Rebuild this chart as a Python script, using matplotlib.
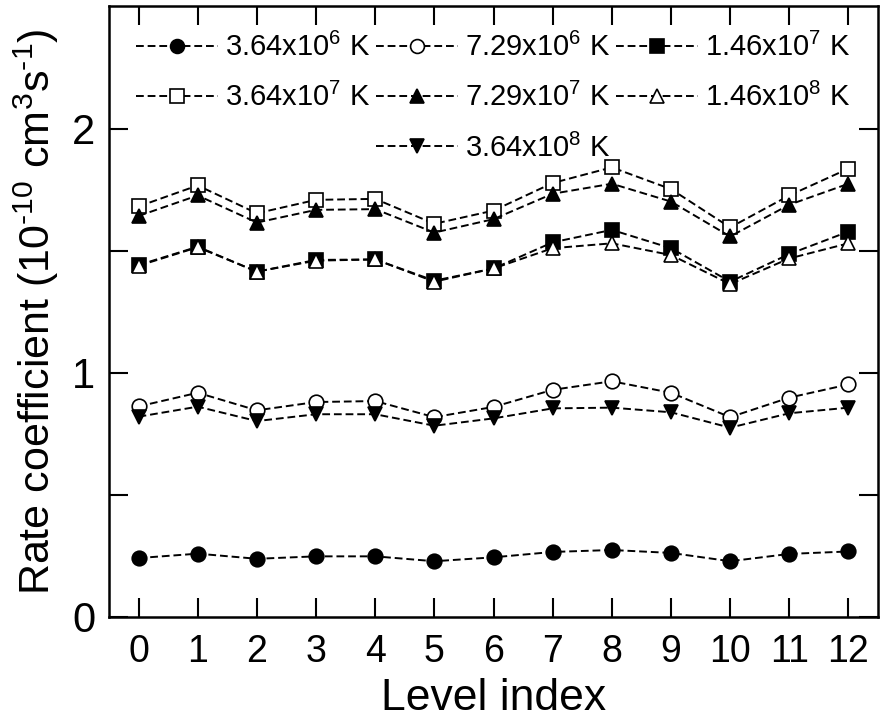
import numpy as np
import matplotlib.pyplot as plt
from matplotlib.lines import Line2D

levels = np.arange(13)

temps = ["3.64x10$^{6}$ K", "7.29x10$^{6}$ K", "1.46x10$^{7}$ K",
         "3.64x10$^{7}$ K", "7.29x10$^{7}$ K", "1.46x10$^{8}$ K",
         "3.64x10$^{8}$ K"]

t1 = [0.241, 0.259, 0.238, 0.248, 0.248, 0.228, 0.244, 0.266, 0.274, 0.262, 0.228, 0.258, 0.268]
t2 = [0.862, 0.918, 0.846, 0.880, 0.884, 0.818, 0.860, 0.930, 0.965, 0.918, 0.818, 0.898, 0.952]
t3 = [1.441, 1.516, 1.414, 1.462, 1.464, 1.377, 1.427, 1.534, 1.585, 1.510, 1.373, 1.486, 1.578]
t4 = [1.681, 1.767, 1.653, 1.708, 1.712, 1.610, 1.664, 1.777, 1.841, 1.752, 1.595, 1.726, 1.836]
t5 = [1.642, 1.726, 1.615, 1.667, 1.670, 1.574, 1.629, 1.733, 1.774, 1.701, 1.558, 1.688, 1.774]
t6 = [1.438, 1.514, 1.414, 1.459, 1.464, 1.373, 1.427, 1.510, 1.530, 1.482, 1.363, 1.468, 1.530]
t7 = [0.820, 0.861, 0.802, 0.830, 0.830, 0.783, 0.813, 0.854, 0.857, 0.838, 0.775, 0.834, 0.857]

series = [t1, t2, t3, t4, t5, t6, t7]
markers = ["o", "o", "s", "s", "^", "^", "v"]
fills = ["k", "w", "k", "w", "k", "w", "k"]

plt.rcParams['font.family'] = ['Liberation Sans', 'DejaVu Sans']
plt.rcParams['mathtext.fontset'] = 'custom'
plt.rcParams['mathtext.rm'] = 'Liberation Sans'

fig = plt.figure(figsize=(8.86, 7.19), dpi=100)
ax = fig.add_axes([0.123, 0.142, 0.868, 0.849])

handles = []
for y, m, fc, lab in zip(series, markers, fills, temps):
    h, = ax.plot(levels, y, ls=(0, (4, 2)), color="k", lw=1.4, marker=m,
                 ms=10.5, mfc=fc, mec="k", mew=1.2, label=lab)
    handles.append(h)

ax.set_xlim(-0.5, 12.5)
ax.set_ylim(0, 2.5)
ax.set_xticks(levels)
ax.set_yticks([0, 1, 2])
ax.set_yticks([0.5, 1.5], minor=True)
ax.tick_params(which="both", direction="in", top=True, right=True, width=1.5, length=14)
ax.tick_params(axis="x", labelsize=27, pad=12)
ax.tick_params(axis="y", labelsize=30, pad=10)
for s in ax.spines.values():
    s.set_linewidth(1.8)

ax.set_xlabel("Level index", fontsize=32, labelpad=6)
ax.set_ylabel("Rate coefficient (10$^{\\text{-10}}$ cm$^{3}$s$^{\\text{-1}}$)", fontsize=31, labelpad=8)

blank = Line2D([], [], ls="none")
order = [handles[0], handles[3], blank,
         handles[1], handles[4], handles[6],
         handles[2], handles[5], blank]
labels = [temps[0], temps[3], "", temps[1], temps[4], temps[6], temps[2], temps[5], ""]
ax.legend(order, labels, ncol=3, loc="upper center", bbox_to_anchor=(0.5, 0.99),
          frameon=False, prop={"size": 21},
          handlelength=2.8, handletextpad=0.25, columnspacing=0.2,
          labelspacing=0.72, markerscale=0.95, borderpad=0.2)

fig.savefig("out.png", dpi=100)
